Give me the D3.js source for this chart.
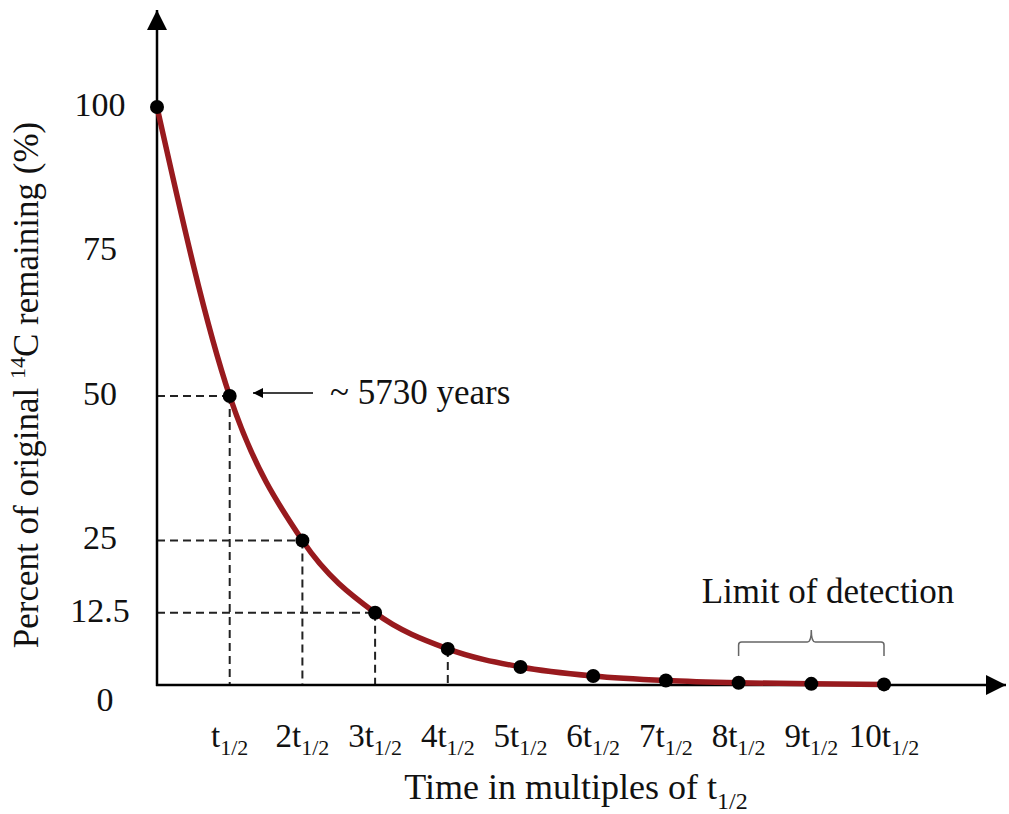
<!DOCTYPE html>
<html>
<head>
<meta charset="utf-8">
<script src="https://cdn.jsdelivr.net/npm/d3@7"></script>
<style>
  html, body { margin: 0; padding: 0; background: #fff; }
  svg { display: block; }
  svg text { font-family: "Liberation Serif", Tinos, "DejaVu Serif", serif; fill: #111; }
</style>
</head>
<body>
<svg id="chart" width="1009" height="814"></svg>
<script>
// Half-lives elapsed and percent of the original 14C that remains
const halfLives = [0, 1, 2, 3, 4, 5, 6, 7, 8, 9, 10];
const percentRemaining = [100, 50, 25, 12.5, 6.25, 3.125, 1.5625, 0.78, 0.39, 0.2, 0.1];

// Axis labelling
const yTickValues = [0, 12.5, 25, 50, 75, 100];
const xTickValues = [1, 2, 3, 4, 5, 6, 7, 8, 9, 10];
const xTickPrefixes = ["", "2", "3", "4", "5", "6", "7", "8", "9", "10"];
const guideValues = [1, 2, 3];      // points with dashed guides to both axes
const guideDownOnly = [4];          // point with a guide down to the x axis only
const detectionRange = [8, 10];     // span under "Limit of detection"

const svg = d3.select("#chart");

const x = d3.scaleLinear().domain([0, 10]).range([157, 884]);
const y = d3.scaleLinear().domain([0, 100]).range([685, 107]);

const data = halfLives.map((h, i) => ({ h, p: percentRemaining[i] }));

// Arrowhead markers
const defs = svg.append("defs");
defs.append("marker")
  .attr("id", "bigArrow")
  .attr("viewBox", "0 0 10 10")
  .attr("refX", 10).attr("refY", 5)
  .attr("markerWidth", 26).attr("markerHeight", 20)
  .attr("markerUnits", "userSpaceOnUse")
  .attr("orient", "auto")
  .append("path").attr("d", "M0,0 L10,5 L0,10 Z").attr("fill", "#000");
defs.append("marker")
  .attr("id", "smallArrow")
  .attr("viewBox", "0 0 10 10")
  .attr("refX", 10).attr("refY", 5)
  .attr("markerWidth", 14).attr("markerHeight", 10)
  .attr("markerUnits", "userSpaceOnUse")
  .attr("orient", "auto")
  .append("path").attr("d", "M0,0 L10,5 L0,10 Z").attr("fill", "#000");

// Dashed guide lines
const guides = svg.append("g")
  .attr("stroke", "#222").attr("stroke-width", 2)
  .attr("stroke-dasharray", "8,5").attr("fill", "none");
guideValues.forEach(h => {
  const p = percentRemaining[halfLives.indexOf(h)];
  guides.append("line").attr("x1", x(0)).attr("x2", x(h)).attr("y1", y(p)).attr("y2", y(p));
});
guideValues.concat(guideDownOnly).forEach(h => {
  const p = percentRemaining[halfLives.indexOf(h)];
  guides.append("line").attr("x1", x(h)).attr("x2", x(h)).attr("y1", y(p)).attr("y2", y(0));
});

// Axes with arrowheads
svg.append("line")
  .attr("x1", x(0)).attr("y1", y(0) + 1).attr("x2", x(0)).attr("y2", 10)
  .attr("stroke", "#000").attr("stroke-width", 2.5)
  .attr("marker-end", "url(#bigArrow)");
svg.append("line")
  .attr("x1", x(0) - 1).attr("y1", y(0)).attr("x2", 1006).attr("y2", y(0))
  .attr("stroke", "#000").attr("stroke-width", 2.5)
  .attr("marker-end", "url(#bigArrow)");

// Decay curve
const line = d3.line().x(d => x(d.h)).y(d => y(d.p)).curve(d3.curveMonotoneX);
svg.append("path")
  .datum(data)
  .attr("d", line)
  .attr("fill", "none")
  .attr("stroke", "#981a1e")
  .attr("stroke-width", 5.5)
  .attr("stroke-linecap", "round");

// Data points
svg.append("g").selectAll("circle")
  .data(data)
  .join("circle")
  .attr("cx", d => x(d.h))
  .attr("cy", d => y(d.p))
  .attr("r", 7)
  .attr("fill", "#000");

// Y tick labels
svg.append("g").selectAll("text")
  .data(yTickValues)
  .join("text")
  .attr("x", d => (d === 0 ? 105 : 100))
  .attr("y", d => y(d) + (d === 0 ? 14 : -3))
  .attr("dy", "0.35em")
  .attr("text-anchor", "middle")
  .style("font-size", "34px")
  .text(d => d);

// X tick labels: n t with subscript 1/2
const xLabels = svg.append("g").selectAll("text")
  .data(xTickValues)
  .join("text")
  .attr("x", d => x(d))
  .attr("y", 747)
  .attr("text-anchor", "middle")
  .style("font-size", "33px");
xLabels.append("tspan").text((d, i) => xTickPrefixes[i] + "t");
xLabels.append("tspan").style("font-size", "22px").attr("dy", 8).text("1/2");

// X axis title
const xTitle = svg.append("text")
  .attr("x", 576).attr("y", 799)
  .attr("text-anchor", "middle")
  .style("font-size", "36px");
xTitle.append("tspan").text("Time in multiples of t");
xTitle.append("tspan").style("font-size", "24px").attr("dy", 10).text("1/2");

// Y axis title
const yTitle = svg.append("text")
  .attr("transform", "translate(38,385) rotate(-90)")
  .attr("text-anchor", "middle")
  .style("font-size", "35px");
yTitle.append("tspan").text("Percent of original ");
yTitle.append("tspan").style("font-size", "22px").attr("dy", -13).text("14");
yTitle.append("tspan").attr("dy", 13).text("C remaining (%)");

// Half-life annotation
const halfP = percentRemaining[halfLives.indexOf(1)];
svg.append("line")
  .attr("x1", 313).attr("y1", y(halfP) - 3).attr("x2", 253).attr("y2", y(halfP) - 3)
  .attr("stroke", "#000").attr("stroke-width", 1.5)
  .attr("marker-end", "url(#smallArrow)");
svg.append("text")
  .attr("x", 330).attr("y", 404)
  .style("font-size", "35px")
  .text("~ 5730 years");

// Limit of detection brace
const bx0 = x(detectionRange[0]), bx1 = x(detectionRange[1]);
const bm = (bx0 + bx1) / 2, by = 642;
svg.append("path")
  .attr("d", `M${bx0},656 V${by + 3} Q${bx0},${by} ${bx0 + 3},${by} H${bm - 4} Q${bm},${by} ${bm},${by - 12} Q${bm},${by} ${bm + 4},${by} H${bx1 - 3} Q${bx1},${by} ${bx1},${by + 3} V656`)
  .attr("fill", "none")
  .attr("stroke", "#666")
  .attr("stroke-width", 1.5);
svg.append("text")
  .attr("x", 828).attr("y", 603)
  .attr("text-anchor", "middle")
  .style("font-size", "35px")
  .text("Limit of detection");
</script>
</body>
</html>
